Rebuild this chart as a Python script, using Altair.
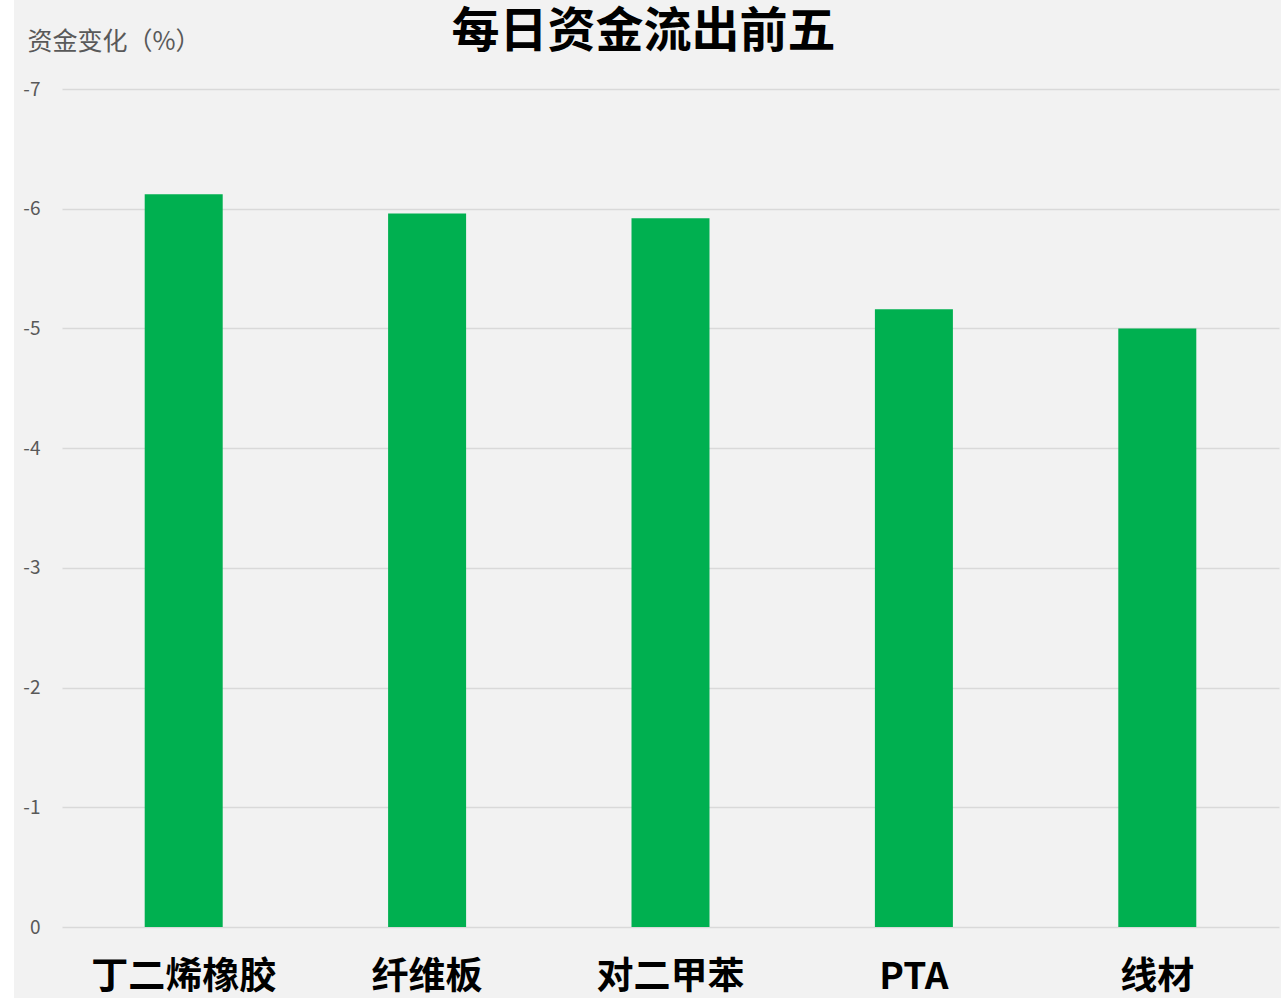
import altair as alt
import pandas as pd

categories = ["丁二烯橡胶", "纤维板", "对二甲苯", "PTA", "线材"]
values = [-6.12, -5.96, -5.92, -5.16, -5.00]

df = pd.DataFrame({"cat": categories, "val": values})

FONT = "Noto Sans CJK SC"

bars = alt.Chart(df).mark_bar(size=78, color="#00b050").encode(
    x=alt.X("cat:N", sort=categories,
            scale=alt.Scale(paddingInner=0, paddingOuter=0),
            axis=alt.Axis(title=None, labelAngle=0, labelFont=FONT, labelFontSize=37,
                          labelFontWeight="bold", labelColor="#000000", ticks=False,
                          tickSize=0, domain=False, labelPadding=32, grid=False,
                          labelLimit=400)),
    y=alt.Y("val:Q", scale=alt.Scale(domain=[0, -7], nice=False),
            axis=alt.Axis(values=[0, -1, -2, -3, -4, -5, -6, -7], title="资金变化（%）",
                          labelExpr="'' + datum.value",
                          titleAngle=0, titleAlign="left", titleBaseline="middle",
                          titleX=-35, titleY=-48, titleFont=FONT, titleFontSize=25,
                          titleFontWeight="normal", titleColor="#595959",
                          labelFont=FONT, labelFontSize=19, labelColor="#595959",
                          labelPadding=22, ticks=False, tickSize=0, domain=False,
                          grid=True, gridColor="#d9d9d9", gridWidth=1.5)),
)

strip = alt.Chart(alt.Data(values=[{"a": 1}])).mark_rect(color="white").encode(
    x=alt.value(-62), x2=alt.value(-48), y=alt.value(-89), y2=alt.value(909)
)

chart = alt.layer(strip, bars).properties(
    width=1217, height=838,
    title=alt.TitleParams("每日资金流出前五", font=FONT, fontSize=48, fontWeight="bold",
                          color="#000000", anchor="middle", frame="group", dx=-27,
                          offset=-57),
    autosize=alt.AutoSizeParams(type="none"),
    padding={"left": 62, "top": 89, "right": 2, "bottom": 71},
    background="#f2f2f2",
).configure_view(stroke=None, fill="#f2f2f2")

chart.save("out.html", embed_options={"renderer": "svg", "actions": False})
